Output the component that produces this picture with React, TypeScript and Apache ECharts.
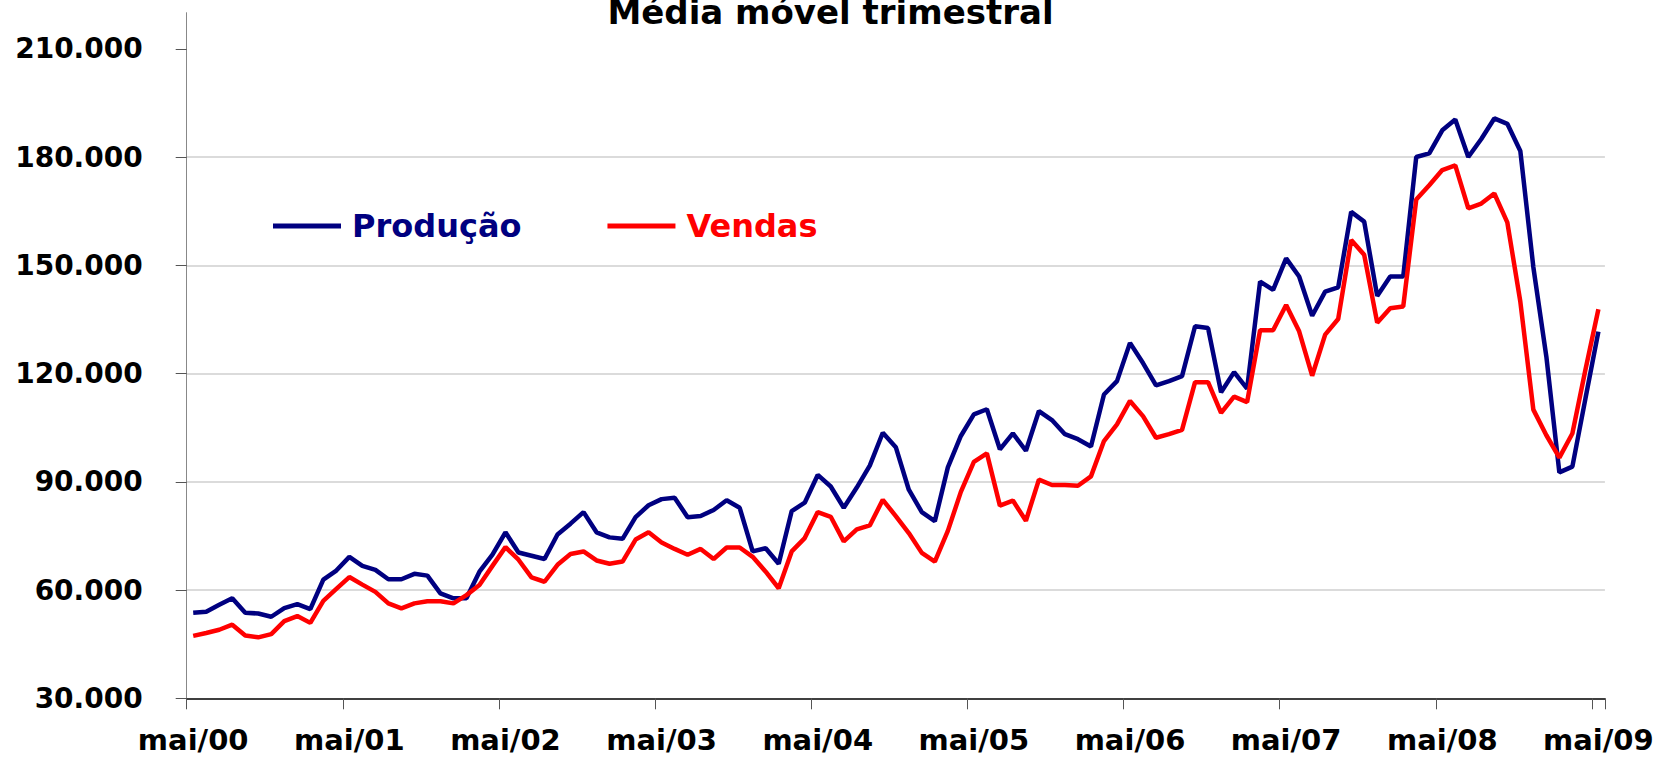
import React, { useEffect, useRef } from "react";
import * as echarts from "echarts";

// Month names used to build the category labels (Portuguese)
const MONTHS = ["jan", "fev", "mar", "abr", "mai", "jun", "jul", "ago", "set", "out", "nov", "dez"];
const START_MONTH_INDEX = 4; // mai
const START_YEAR = 2000;

// Values in thousands of units (3-month moving average), mai/00 .. mai/09
const producao = [
  53.7, 54.0, 55.9, 57.7, 53.7, 53.5, 52.6, 55.0, 56.1, 54.7, 62.9, 65.4,
  69.2, 66.7, 65.6, 63.0, 63.0, 64.5, 64.0, 59.1, 57.7, 57.7, 65.1, 69.8,
  76.0, 70.4, 69.5, 68.6, 75.4, 78.4, 81.6, 76.0, 74.6, 74.2, 80.2, 83.5,
  85.2, 85.6, 80.2, 80.5, 82.2, 84.9, 82.8, 70.7, 71.6, 67.3, 81.9, 84.2,
  91.9, 88.7, 82.8, 88.4, 94.5, 103.6, 99.6, 87.8, 81.6, 79.1, 94.0, 102.7,
  108.7, 110.1, 99.0, 103.4, 98.6, 109.6, 107.1, 103.2, 101.8, 99.8, 114.2, 117.9,
  128.5, 122.9, 116.7, 117.9, 119.3, 133.1, 132.6, 114.8, 120.4, 115.8, 145.5, 143.2,
  151.9, 146.9, 136.0, 142.7, 143.9, 164.8, 162.1, 141.5, 146.9, 146.9, 180.0, 181.0,
  187.4, 190.4, 180.0, 185.0, 190.7, 189.2, 181.7, 149.5, 124.7, 92.6, 94.2, 113.0,
  131.6,
];

const vendas = [
  47.3, 48.1, 49.0, 50.4, 47.4, 46.9, 47.8, 51.4, 52.8, 50.9, 57.0, 60.3,
  63.6, 61.5, 59.5, 56.3, 54.9, 56.3, 56.9, 56.9, 56.3, 58.6, 61.4, 66.7,
  71.9, 68.4, 63.5, 62.3, 67.0, 70.0, 70.7, 68.2, 67.3, 67.9, 74.0, 76.0,
  73.2, 71.4, 69.8, 71.4, 68.6, 71.8, 71.8, 69.2, 65.1, 60.5, 70.7, 74.4,
  81.6, 80.3, 73.5, 76.8, 77.9, 85.0, 80.5, 75.8, 70.3, 67.9, 76.4, 87.2,
  95.5, 97.9, 83.4, 84.8, 79.2, 90.6, 89.1, 89.1, 88.9, 91.5, 101.3, 105.9,
  112.4, 108.2, 102.2, 103.2, 104.4, 117.6, 117.6, 109.1, 113.6, 112.1, 132.0, 132.0,
  139.0, 131.7, 119.4, 130.8, 135.1, 157.0, 152.9, 134.1, 138.1, 138.6, 168.2, 172.2,
  176.4, 177.7, 165.8, 167.1, 169.9, 161.9, 139.9, 110.0, 102.9, 96.7, 103.4, 121.0,
  137.8,
];

const yTicks = [30, 60, 90, 120, 150, 180, 210];

const categories = producao.map((_, i) => {
  const m = START_MONTH_INDEX + i;
  const yy = (START_YEAR + Math.floor(m / 12)) % 100;
  return `${MONTHS[m % 12]}/${String(yy).padStart(2, "0")}`;
});

const FONT = "DejaVu Sans";

export default function App() {
  const ref = useRef<HTMLDivElement>(null);

  useEffect(() => {
    if (!ref.current) return;
    const chart = echarts.init(ref.current, undefined, { renderer: "svg" });
    chart.setOption({
      animation: false,
      backgroundColor: "#ffffff",
      title: {
        text: "Média móvel trimestral",
        left: "center",
        top: -5,
        padding: 0,
        textStyle: { fontFamily: FONT, fontWeight: "bold", fontSize: 34, color: "#000" },
      },
      legend: {
        left: 273,
        top: 210,
        padding: 0,
        itemWidth: 68,
        itemHeight: 5,
        itemGap: 86,
        icon: "rect",
        data: [
          { name: "Produção", textStyle: { color: "#000080" } },
          { name: "Vendas", textStyle: { color: "#ff0000" } },
        ],
        textStyle: { fontFamily: FONT, fontWeight: "bold", fontSize: 32, padding: [0, 0, 0, 6] },
      },
      grid: {
        left: 186.7,
        right: 56.1,
        top: 12.7,
        bottom: 60.7,
        containLabel: false,
        outerBoundsMode: "none",
      },
      xAxis: {
        type: "category",
        data: categories,
        boundaryGap: true,
        axisLine: { show: true, lineStyle: { color: "#000", width: 1.5 } },
        axisTick: { show: true, interval: 11, length: 11, lineStyle: { color: "#555", width: 1 } },
        axisLabel: {
          interval: 11,
          margin: 27,
          fontFamily: FONT,
          fontWeight: "bold",
          fontSize: 29,
          color: "#000",
        },
        splitLine: { show: false },
      },
      yAxis: {
        type: "value",
        min: 30,
        max: 220,
        interval: 30,
        axisLine: { show: true, lineStyle: { color: "#888", width: 1 } },
        axisTick: { show: true, length: 11, customValues: yTicks, lineStyle: { color: "#555" } },
        axisLabel: {
          customValues: yTicks,
          formatter: (v: number) => `${v}.000`,
          margin: 44,
          fontFamily: FONT,
          fontWeight: "bold",
          fontSize: 28,
          color: "#000",
        },
        splitLine: {
          show: true,
          showMinLine: false,
          showMaxLine: false,
          lineStyle: { color: "#cfcfcf", width: 1.5 },
        },
      },
      series: [
        {
          name: "Produção",
          type: "line",
          data: producao,
          symbol: "none",
          lineStyle: { color: "#000080", width: 4.5 },
          itemStyle: { color: "#000080" },
        },
        {
          name: "Vendas",
          type: "line",
          data: vendas,
          symbol: "none",
          lineStyle: { color: "#ff0000", width: 4.5 },
          itemStyle: { color: "#ff0000" },
        },
      ],
    });
    return () => chart.dispose();
  }, []);

  return (
    <div
      ref={ref}
      style={{ position: "fixed", left: 0, top: 0, width: 1661, height: 759 }}
    />
  );
}
